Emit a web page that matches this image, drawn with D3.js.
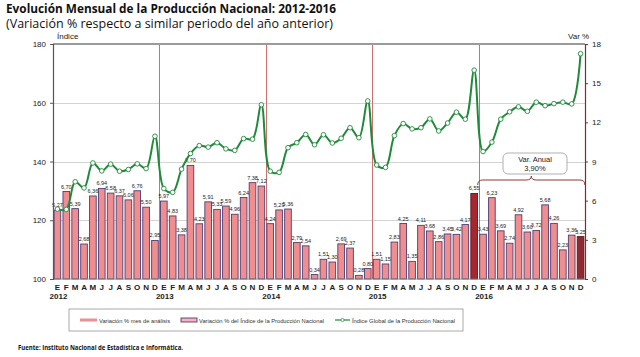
<!DOCTYPE html>
<html><head><meta charset="utf-8">
<script src="https://cdn.jsdelivr.net/npm/d3@7/dist/d3.min.js"></script>
<style>body{margin:0;background:#fff}svg{display:block}</style>
</head><body><svg id="c" width="640" height="357"></svg>
<script>
const monthLabels = ["E","F","M","A","M","J","J","A","S","O","N","D"];
const years = ["2012","2013","2014","2015","2016"];
const barValues = [
 5.27,6.70,5.39,2.68,6.36,6.94,6.58,6.37,6.06,6.76,5.50,2.95,
 5.97,4.83,3.38,8.70,4.23,5.91,5.33,5.59,4.96,6.24,7.38,7.12,
 4.24,5.29,5.36,2.79,2.54,0.34,1.51,1.30,2.69,2.37,0.28,0.80,
 1.51,1.15,2.83,4.25,1.35,4.11,3.68,2.86,3.45,3.42,4.17,6.55,
 3.43,6.23,3.69,2.74,4.92,3.60,3.72,5.68,4.26,2.23,3.36,3.25];
const indexValues = [
 123.8,123.7,133.1,131.0,139.5,136.8,139.1,136.7,137.3,139.2,137.6,148.6,
 130.8,129.5,137.4,142.7,145.4,144.9,146.4,144.3,143.8,147.8,147.6,159.3,
 136.7,136.3,144.7,146.4,149.2,145.7,149.1,146.3,147.9,151.5,148.1,160.6,
 138.8,138.0,148.8,152.9,151.1,151.5,154.5,150.4,153.1,156.8,154.4,171.1,
 143.4,146.6,154.4,156.9,158.6,157.1,160.2,159.0,159.7,160.2,159.6,176.7];
const highlighted = [47, 59];
const leftTicks = [100,120,140,160,180];
const rightTicks = [0,3,6,9,12,15,18];
const annualVar = "3,90%";

const svg = d3.select("#c");
const L = 53, R = 585, T = 44, B = 279;
const font = "'Liberation Sans', Arial, sans-serif";
const n = barValues.length;

const x = d3.scaleBand().domain(d3.range(n)).range([L, R]).paddingInner(0.25).paddingOuter(0.125);
const yL = d3.scaleLinear().domain([100,180]).range([B, T]);
const yR = d3.scaleLinear().domain([0,18]).range([B, T]);
const cx = i => x(i) + x.bandwidth()/2;
const fmt = v => d3.format(".2f")(v).replace(".", ",");

// titles
svg.append("text").attr("x",6).attr("y",13).attr("font-family","'Open Sans', sans-serif")
  .attr("font-weight","bold").attr("font-size",12).attr("fill","#111")
  .attr("textLength",330).attr("lengthAdjust","spacingAndGlyphs")
  .text("Evolución Mensual de la Producción Nacional: 2012-2016");
svg.append("text").attr("x",6).attr("y",28).attr("font-family","'Open Sans', sans-serif")
  .attr("font-size",12).attr("fill","#111")
  .attr("textLength",327).attr("lengthAdjust","spacingAndGlyphs")
  .text("(Variación % respecto a similar periodo del año anterior)");

// gridlines
svg.append("g").selectAll("line").data([120,140,160]).join("line")
  .attr("x1",L).attr("x2",R).attr("y1",d=>Math.round(yL(d))+0.5).attr("y2",d=>Math.round(yL(d))+0.5)
  .attr("stroke","#d4d4d4").attr("stroke-width",1);

// year separators
const sepX = d => Math.round(x(d)-x.step()*0.125)+0.5;
svg.append("g").selectAll("line").data([12,24,36,48]).join("line")
  .attr("x1",sepX).attr("x2",sepX)
  .attr("y1",T).attr("y2",B).attr("stroke","#cc7070").attr("stroke-width",1);

// top border
svg.append("line").attr("x1",L).attr("x2",R).attr("y1",T).attr("y2",T)
  .attr("stroke","#9a9a9a").attr("stroke-width",2);

// bars
svg.append("g").selectAll("rect").data(barValues).join("rect")
  .attr("x",(d,i)=>x(i)).attr("width",x.bandwidth())
  .attr("y",d=>yR(d)).attr("height",d=>B-yR(d))
  .attr("fill",(d,i)=>highlighted.includes(i) ? (i===59 ? "#8e2a30" : "#a8262e") : "#ef8d8f")
  .attr("stroke",(d,i)=>highlighted.includes(i) ? "#5a1a20" : "#4f3f73").attr("stroke-width",0.9);

// bar labels
svg.append("g").selectAll("text").data(barValues).join("text")
  .attr("x",(d,i)=>cx(i)).attr("y",d=>yR(d)-3)
  .attr("text-anchor","middle").attr("font-family",font).attr("font-size",5.5)
  .attr("fill","#222").text(d=>fmt(d));

// baseline
svg.append("line").attr("x1",L).attr("x2",R).attr("y1",B).attr("y2",B).attr("stroke","#888").attr("stroke-width",0.8);

// index line
const line = d3.line().x((d,i)=>cx(i)).y(d=>yL(d)).curve(d3.curveCatmullRom.alpha(0.5));
svg.append("path").datum(indexValues).attr("d",line).attr("fill","none")
  .attr("stroke","#1f8a3a").attr("stroke-width",2);
svg.append("g").selectAll("circle").data(indexValues).join("circle")
  .attr("cx",(d,i)=>cx(i)).attr("cy",d=>yL(d)).attr("r",2.3)
  .attr("fill","#fff").attr("stroke","#1f8a3a").attr("stroke-width",0.9);

// axes
const axL = svg.append("g").attr("transform",`translate(${L},0)`)
  .call(d3.axisLeft(yL).tickValues(leftTicks).tickSize(3).tickPadding(4));
axL.select(".domain").attr("stroke","#555").attr("stroke-width",1.2);
axL.selectAll(".tick line").attr("stroke","#555");
axL.selectAll("text").attr("font-family",font).attr("font-size",8).attr("fill","#222");

const axR = svg.append("g").attr("transform",`translate(${R},0)`)
  .call(d3.axisRight(yR).tickValues(rightTicks).tickSize(3).tickPadding(4));
axR.select(".domain").attr("stroke","#7a2e30").attr("stroke-width",1.2);
axR.selectAll(".tick line").attr("stroke","#7a2e30");
axR.selectAll("text").attr("font-family",font).attr("font-size",8).attr("fill","#222");

svg.append("text").attr("x",57).attr("y",39).attr("font-family",font).attr("font-size",8).attr("fill","#222").text("Índice");
svg.append("text").attr("x",568).attr("y",39).attr("font-family",font).attr("font-size",8).attr("fill","#222").text("Var %");

// month labels
svg.append("g").selectAll("text").data(d3.range(n)).join("text")
  .attr("x",i=>cx(i)).attr("y",290).attr("text-anchor","middle")
  .attr("font-family",font).attr("font-weight","bold").attr("font-size",8).attr("fill","#222")
  .text(i=>monthLabels[i%12]);
svg.append("g").selectAll("text").data(years).join("text")
  .attr("x",(d,k)=>cx(k*12)+1).attr("y",299).attr("text-anchor","middle")
  .attr("font-family",font).attr("font-weight","bold").attr("font-size",8).attr("fill","#222")
  .text(d=>d);

// annual callout
const bx0 = x(48) - 2, bx1 = x(59) + x.bandwidth() + 1, bmid = (bx0+bx1)/2;
svg.append("path")
  .attr("d",`M${bx0},185 Q${bx0},180 ${bx0+5},180 L${bmid-5},180 Q${bmid},180 ${bmid},176 Q${bmid},180 ${bmid+5},180 L${bx1-5},180 Q${bx1},180 ${bx1},185`)
  .attr("fill","none").attr("stroke","#8a3a3a").attr("stroke-width",1);
svg.append("rect").attr("x",503).attr("y",153).attr("width",64).attr("height",21).attr("rx",5)
  .attr("fill","#fff").attr("stroke","#b0b0b0").attr("stroke-width",1);
svg.append("text").attr("x",535).attr("y",162).attr("text-anchor","middle").attr("font-family",font)
  .attr("font-size",7.5).attr("fill","#222").text("Var. Anual");
svg.append("text").attr("x",535).attr("y",171).attr("text-anchor","middle").attr("font-family",font)
  .attr("font-size",7.5).attr("fill","#222").text(annualVar);

// legend
const lg = svg.append("g");
lg.append("rect").attr("x",69).attr("y",309).attr("width",394).attr("height",22)
  .attr("fill","#fff").attr("stroke","#aaa").attr("stroke-width",1);
lg.append("rect").attr("x",80).attr("y",318.5).attr("width",17).attr("height",3).attr("fill","#ea9095");
lg.append("text").attr("x",99).attr("y",322.5).attr("font-family",font).attr("font-size",6).attr("fill","#333")
  .attr("textLength",71).attr("lengthAdjust","spacingAndGlyphs").text("Variación % mes de análisis");
lg.append("rect").attr("x",181).attr("y",318).attr("width",16).attr("height",4).attr("fill","#f3b3c3").attr("stroke","#4f3f73").attr("stroke-width",0.9);
lg.append("text").attr("x",199).attr("y",322.5).attr("font-family",font).attr("font-size",6).attr("fill","#333")
  .attr("textLength",125).attr("lengthAdjust","spacingAndGlyphs").text("Variación % del Índice de la Producción Nacional");
lg.append("line").attr("x1",335).attr("x2",350).attr("y1",320).attr("y2",320).attr("stroke","#1f8a3a").attr("stroke-width",1.2);
lg.append("circle").attr("cx",342.5).attr("cy",320).attr("r",1.6).attr("fill","#fff").attr("stroke","#1f8a3a").attr("stroke-width",0.7);
lg.append("text").attr("x",352).attr("y",322.5).attr("font-family",font).attr("font-size",6).attr("fill","#333")
  .attr("textLength",103).attr("lengthAdjust","spacingAndGlyphs").text("Índice Global de la Producción Nacional");

svg.append("text").attr("x",18).attr("y",350).attr("font-family","'Open Sans', sans-serif").attr("font-weight","bold")
  .attr("font-size",6.5).attr("fill","#111").attr("textLength",165).attr("lengthAdjust","spacingAndGlyphs")
  .text("Fuente: Instituto Nacional de Estadística e Informática.");
</script></body></html>
